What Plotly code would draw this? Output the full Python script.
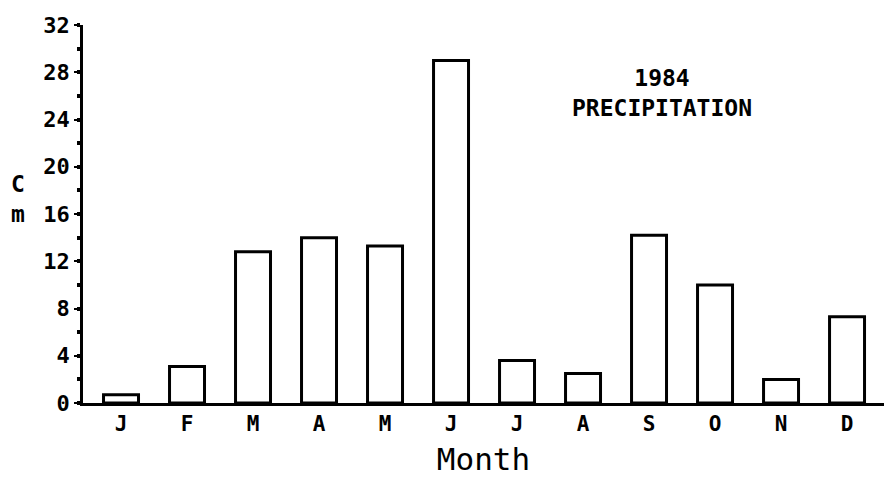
import plotly.graph_objects as go

# Monthly precipitation for 1984, in centimetres
months = ["J", "F", "M", "A", "M", "J", "J", "A", "S", "O", "N", "D"]
precip_cm = [0.7, 3.1, 12.8, 14.0, 13.3, 29.0, 3.6, 2.5, 14.2, 10.0, 2.0, 7.3]
y_ticks = [0, 4, 8, 12, 16, 20, 24, 28, 32]

positions = list(range(len(months)))
mono = "DejaVu Sans Mono"

fig = go.Figure(
    go.Bar(
        x=positions,
        y=precip_cm,
        width=0.53,
        marker=dict(color="white", line=dict(color="black", width=3)),
        hoverinfo="x+y",
    )
)

fig.update_layout(
    width=884,
    height=480,
    margin=dict(l=83, r=0, t=25, b=77),
    plot_bgcolor="white",
    paper_bgcolor="white",
    showlegend=False,
    font=dict(family=mono, color="black"),
    xaxis=dict(
        range=[-0.576, 11.56],
        tickvals=positions,
        ticktext=months,
        ticks="",
        showgrid=False,
        zeroline=False,
        showline=True,
        linecolor="black",
        linewidth=2.5,
        tickfont=dict(family=mono, size=21, color="black", weight="bold"),
        title=dict(text="Month", font=dict(family=mono, size=31, color="black"), standoff=14),
    ),
    yaxis=dict(
        range=[0, 32],
        tickvals=y_ticks,
        ticks="outside",
        ticklen=6,
        tickwidth=2,
        tickcolor="black",
        showgrid=False,
        zeroline=False,
        showline=True,
        linecolor="black",
        linewidth=2.5,
        tickfont=dict(family=mono, size=22, color="black", weight="bold"),
        minor=dict(dtick=2, ticks="outside", ticklen=3, tickwidth=4, tickcolor="black"),
    ),
)

# Vertical unit label, one letter per line
fig.add_annotation(
    text="C<br>m",
    xref="paper", yref="paper",
    x=-0.081, y=0.54,
    xanchor="center", yanchor="middle",
    showarrow=False,
    font=dict(family=mono, size=23, color="black", weight="bold"),
)

fig.add_annotation(
    text="1984<br>PRECIPITATION",
    xref="paper", yref="paper",
    x=0.723, y=0.82,
    xanchor="center", yanchor="middle",
    showarrow=False,
    font=dict(family=mono, size=23, color="black", weight="bold"),
)

fig.write_html("out.html")
